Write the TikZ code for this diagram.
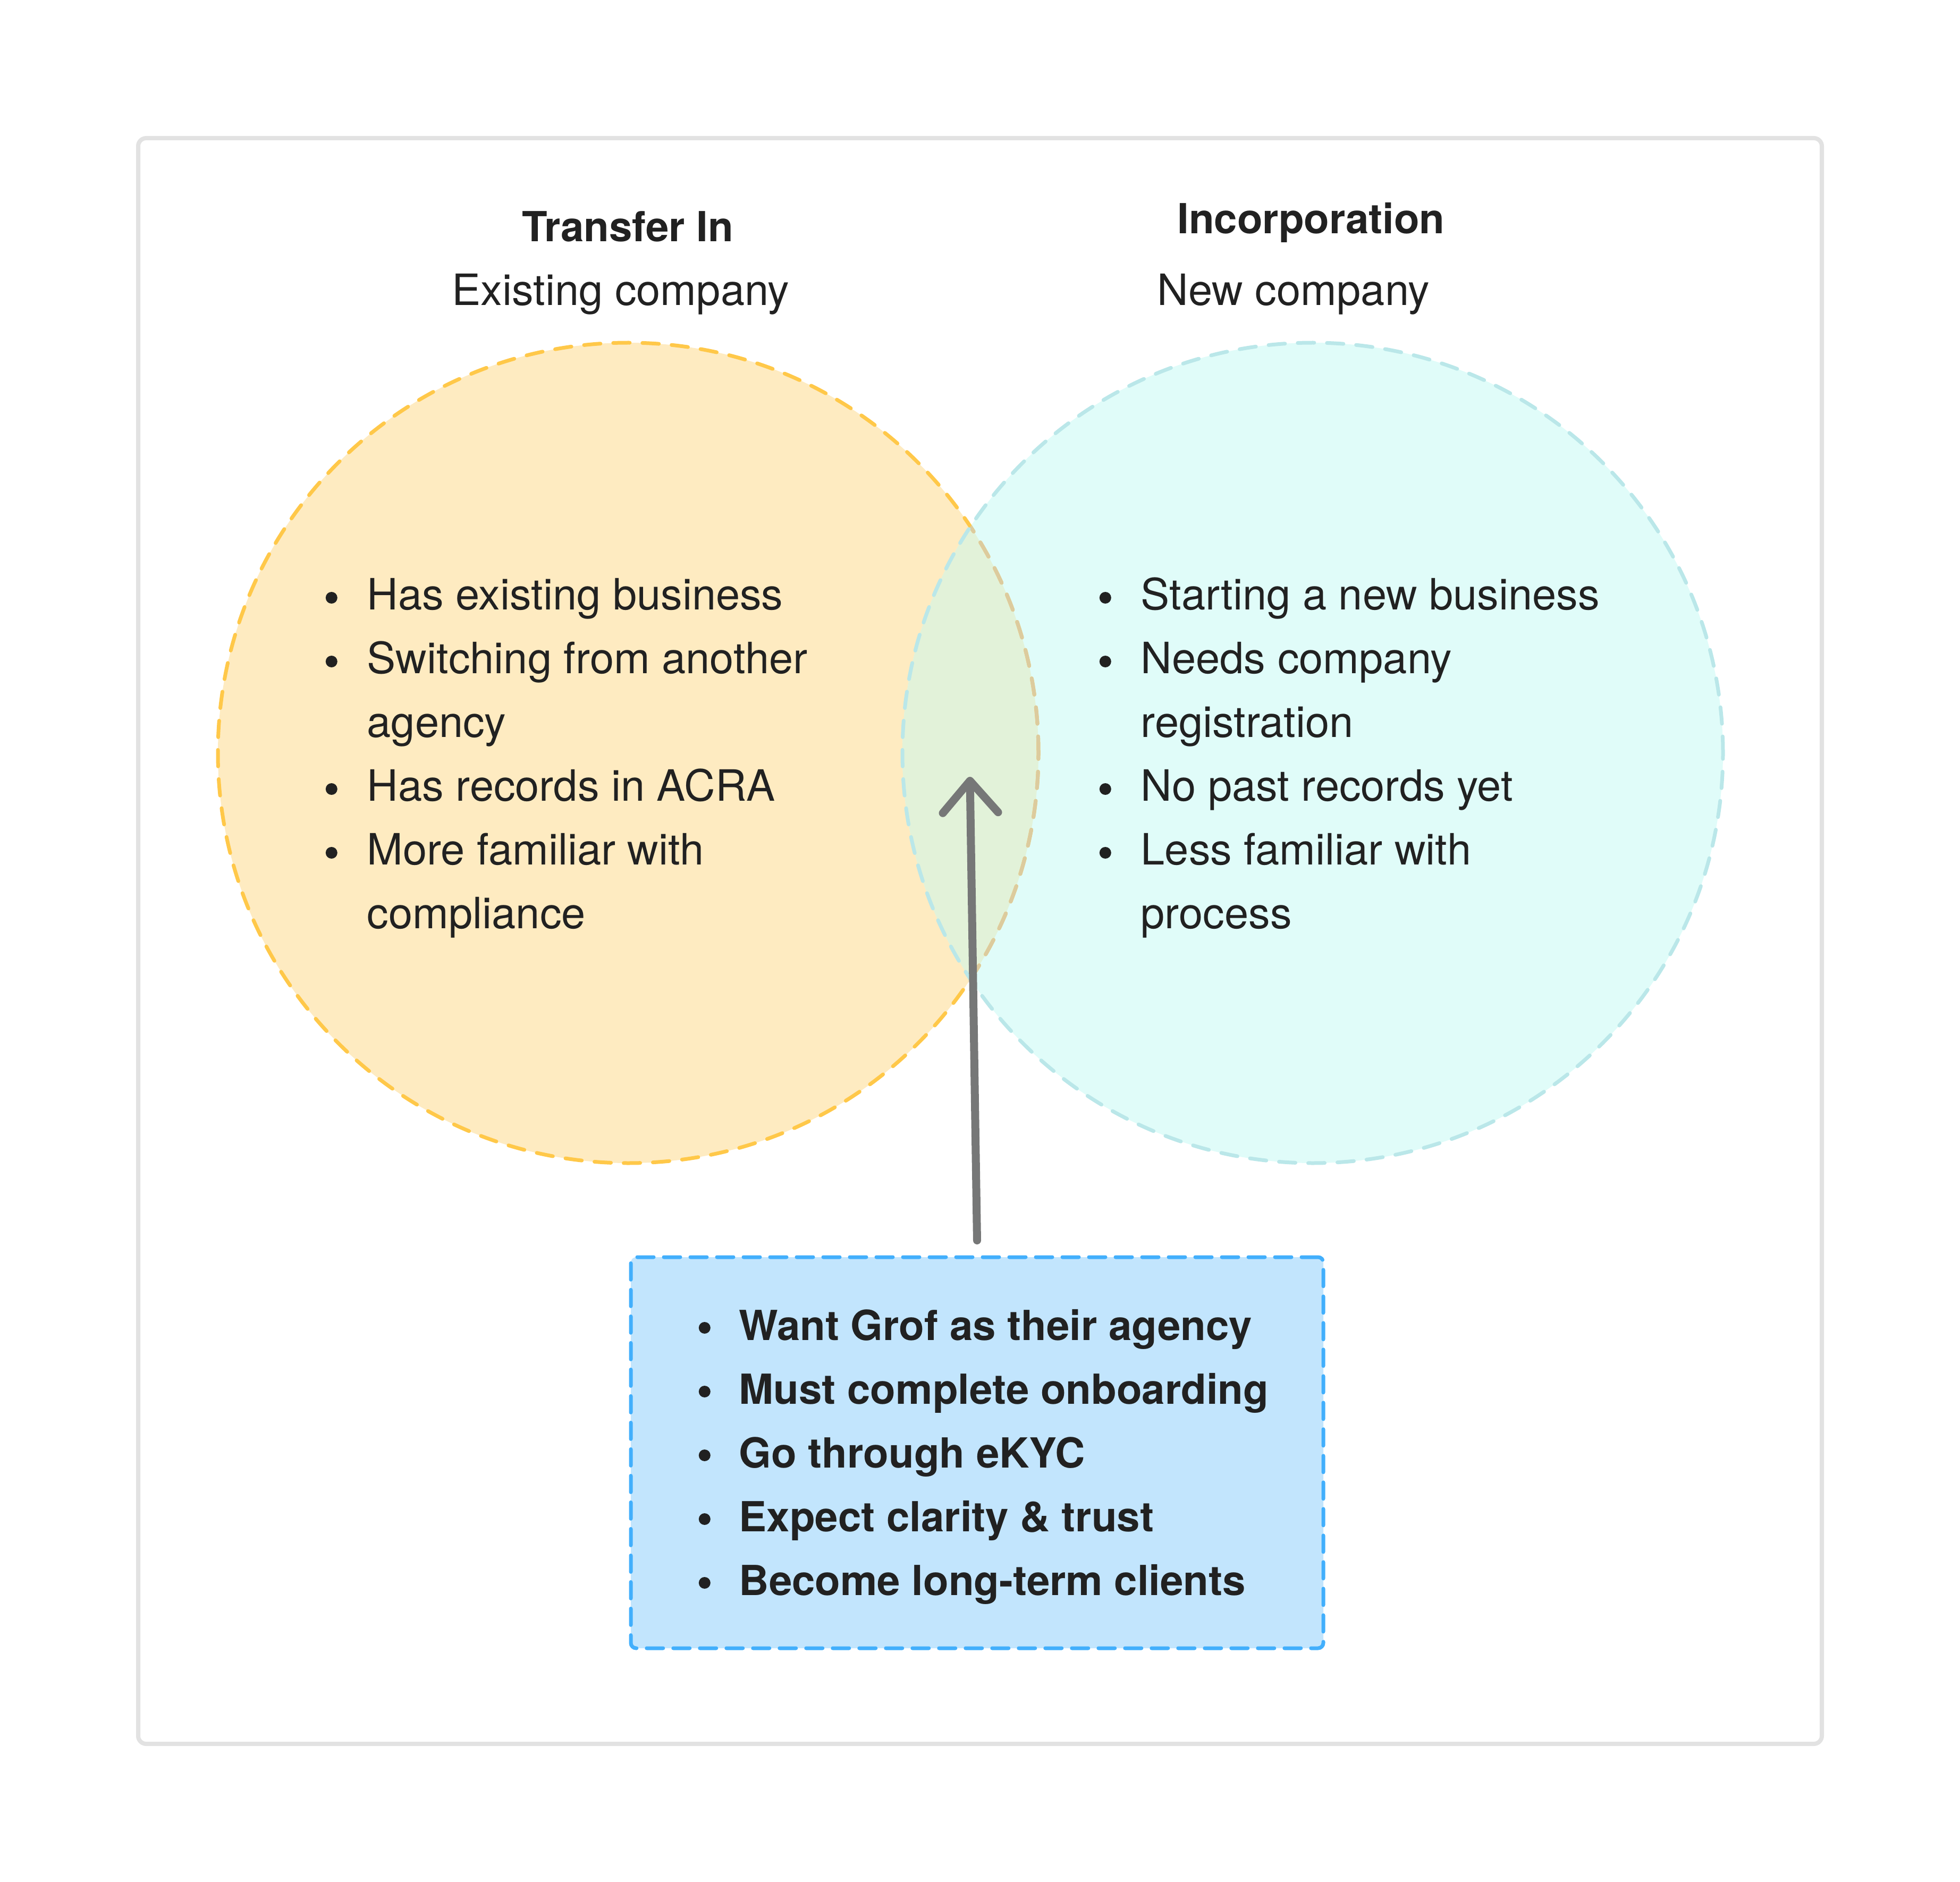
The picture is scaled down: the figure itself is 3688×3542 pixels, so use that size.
\documentclass[tikz,border=0pt]{standalone}
\usepackage{fontspec}
\setmainfont{TeX Gyre Heros}
\usepackage{tikz}
\usetikzlibrary{arrows.meta, positioning}

\definecolor{inkdark}{HTML}{212121}
\definecolor{framegray}{HTML}{E2E2E2}
\definecolor{transferfill}{HTML}{FEEBC1}
\definecolor{transferline}{HTML}{FFC849}
\definecolor{incorpfill}{HTML}{E0FCF9}
\definecolor{incorpline}{HTML}{BAE7E9}
\definecolor{commonfill}{HTML}{E2F2D9}
\definecolor{commonline}{HTML}{DCCB9E}
\definecolor{onboardfill}{HTML}{C2E5FD}
\definecolor{onboardline}{HTML}{42AFFC}
\definecolor{arrowgray}{HTML}{767777}

% bullet dot, drawn so its size matches the picture
\newcommand{\dotmark}{\tikz[baseline=0pt]\fill[inkdark] (0pt,5.75pt) circle[radius=2.75pt];}
\newcommand{\bul}{\makebox[20.25pt][l]{\hspace{0.75pt}\dotmark}}
\newcommand{\bbul}{\makebox[19.75pt][l]{\hspace{0.75pt}\dotmark}}

\begin{document}
\begin{tikzpicture}[
    x=0.25pt, y=-0.25pt,
    head/.style={anchor=base, inner sep=0pt, text=inkdark, font=\fontsize{19.5}{30}\selectfont\bfseries},
    sub/.style={anchor=base, inner sep=0pt, text=inkdark, font=\fontsize{20.3}{30}\selectfont},
    points/.style={anchor=base west, inner sep=0pt, text=inkdark, font=\fontsize{20.3}{30}\selectfont},
    keypoints/.style={points, font=\fontsize{19.5}{30}\selectfont\bfseries},
    ring/.style={line width=1.75pt, dash pattern=on 7.75pt off 6pt, line cap=round},
    arrow/.style={-{Straight Barb[length=15pt, width=26pt, round]}, line width=3.75pt, line cap=round, draw=arrowgray}
]
    \useasboundingbox (0,0) rectangle (3688,3542);

    % Frame
    \draw[framegray, line width=2pt, rounded corners=3.75pt] (260,260) rectangle (3428,3282);

    % Circles
    \coordinate (cl) at (1182,1417);
    \coordinate (cr) at (2470,1417);
    \fill[transferfill] (cl) circle[radius=193pt];
    \fill[incorpfill] (cr) circle[radius=193pt];
    \begin{scope}
        \clip (cl) circle[radius=193pt];
        \fill[commonfill] (cr) circle[radius=193pt];
    \end{scope}
    \draw[ring, transferline] (cl) circle[radius=193pt];
    \begin{scope}
        \clip (cr) circle[radius=193pt];
        \draw[ring, commonline] (cl) circle[radius=193pt];
    \end{scope}
    \draw[ring, incorpline] (cr) circle[radius=193pt];

    % Headings
    \node (transfer) [head] at (1181,455) {Transfer In};
    \node (existing) [sub] at (1168,575) {Existing company};
    \node (incorp) [head] at (2467,440) {Incorporation};
    \node (newco) [sub] at (2434,575) {New company};

    % Lists
    \node (leftlist) [points] at (609,1148) {\begin{tabular}[t]{@{}l@{}}
        \bul Has existing business\\
        \bul Switching from another\\
        \hspace{20.25pt}agency\\
        \bul Has records in ACRA\\
        \bul More familiar with\\
        \hspace{20.25pt}compliance
    \end{tabular}};
    \node (rightlist) [points] at (2065,1148) {\begin{tabular}[t]{@{}l@{}}
        \bul Starting a new business\\
        \bul Needs company\\
        \hspace{20.25pt}registration\\
        \bul No past records yet\\
        \bul Less familiar with\\
        \hspace{20.25pt}process
    \end{tabular}};

    % Shared box
    \node (onboard) [draw=onboardline, fill=onboardfill, line width=1.75pt, dash pattern=on 7.75pt off 4.75pt, line cap=round, rounded corners=2.5pt, minimum width=325.75pt, minimum height=184pt, inner sep=0pt] at (1838.5,2734) {};
    \node (sharedlist) [keypoints] at (1311,2522) {\begin{tabular}[t]{@{}l@{}}
        \bbul Want Grof as their agency\\
        \bbul Must complete onboarding\\
        \bbul Go through eKYC\\
        \bbul Expect clarity \& trust\\
        \bbul Become long-term clients
    \end{tabular}};

    % Pointer
    \coordinate (tip) at (1825,1462);
    \draw[arrow] ([yshift=7pt]onboard.north) -- (tip);
\end{tikzpicture}
\end{document}
